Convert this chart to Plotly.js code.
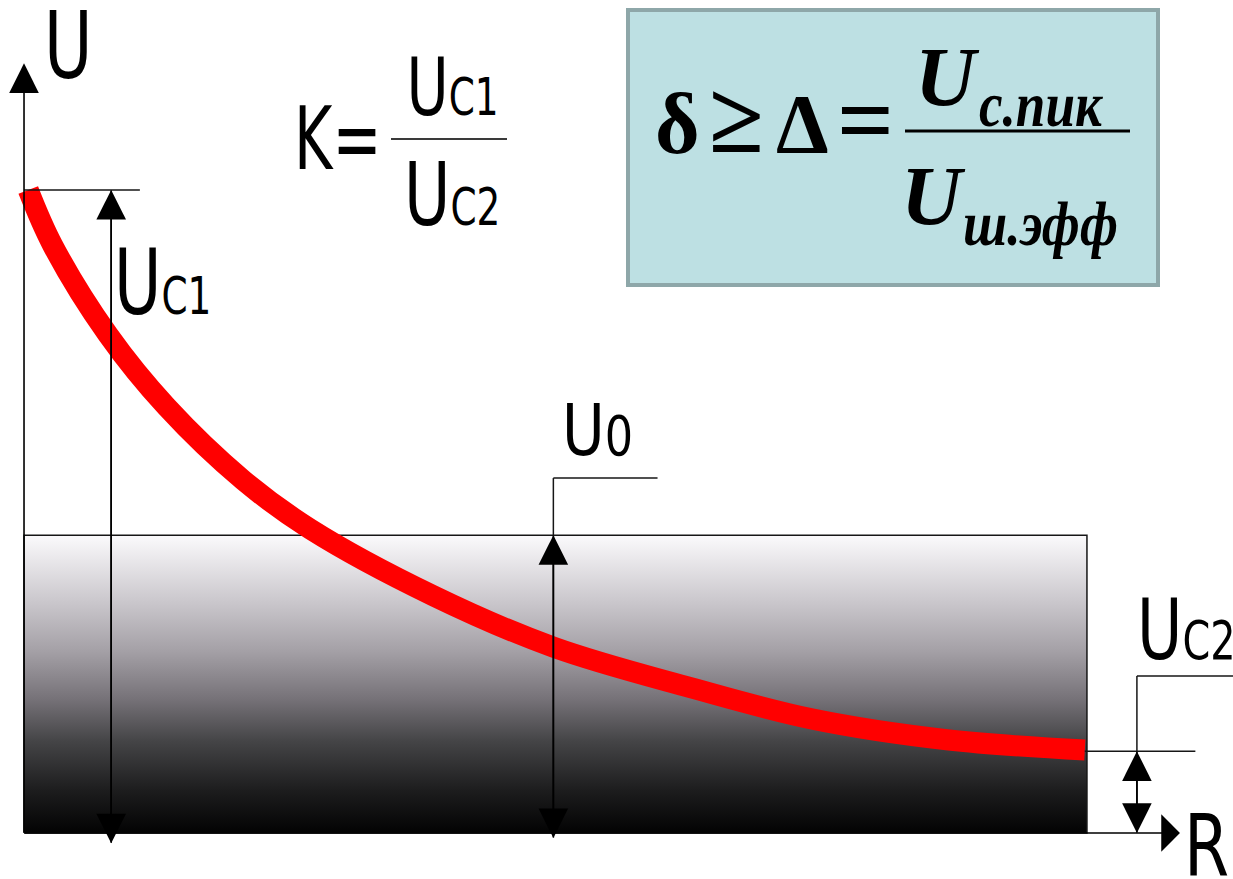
<!DOCTYPE html>
<html>
<head>
<meta charset="utf-8">
<script src="https://cdn.plot.ly/plotly-3.0.1.min.js"></script>
<style>
  html, body { margin: 0; padding: 0; background: #ffffff; }
  #chart { width: 1233px; height: 879px; }
</style>
</head>
<body>
<div id="chart"></div>
<script>
// Signal level U falling off with distance R, against the noise band U0.
const R_VALUES = [0.04, 0.27, 0.79, 1.34, 2.06, 2.69, 3.85, 4.98, 6.27, 7.42, 8.68, 9.98];
const U_VALUES = [10.0, 9.14, 7.75, 6.63, 5.49, 4.73, 3.69, 2.89, 2.26, 1.77, 1.45, 1.29];

// Named levels of the diagram
const U_C1 = 10.0;   // signal at the near end
const U_0 = 4.63;    // noise level
const U_C2 = 1.27;   // signal at the far end
const R_MAX = 10.0;  // end of the noise band

// Labels
const AXIS_U = 'U';
const AXIS_R = 'R';
const LABEL_C1 = 'C1';
const LABEL_C2 = 'C2';
const LABEL_0 = '0';
const K_TEXT = 'K=';
const FORMULA_LEFT = ['δ', '≥', 'Δ', '='];
const FORMULA_NUM_SUB = 'с.пик';
const FORMULA_DEN_SUB = 'ш.эфф';

// Figure geometry
const W = 1233, H = 879;
const X_RANGE = [-0.226, 11.374];
const Y_RANGE = [-0.716, 12.955];
const px = x => x / W;
const py = y => 1 - y / H;

const SANS = '"Liberation Sans Narrow", "Arial Narrow", "DejaVu Sans Condensed", "Liberation Sans", sans-serif';
const SERIF = '"Liberation Serif", "Times New Roman", serif';
const INK = '#161616';

const traces = [
  {
    // noise band, white at the noise level fading to black at zero
    x: [0, R_MAX, R_MAX, 0, 0],
    y: [0, 0, U_0, U_0, 0],
    mode: 'lines',
    fill: 'toself',
    fillgradient: {
      type: 'vertical',
      start: 0,
      stop: U_0,
      colorscale: [
        [0, '#030303'], [0.14, '#1c1c1d'], [0.31, '#454547'], [0.45, '#767278'],
        [0.61, '#a4a0a6'], [0.78, '#cbc8cd'], [1, '#fbfafc']
      ]
    },
    line: { color: INK, width: 1.5 },
    hoverinfo: 'skip'
  },
  {
    // signal curve
    x: R_VALUES,
    y: U_VALUES,
    mode: 'lines',
    line: { color: '#ff0000', width: 21, shape: 'spline', smoothing: 1 },
    hoverinfo: 'skip'
  }
];

// Guide lines in data coordinates
const R_ARROW_C1 = 0.82, R_ARROW_0 = 4.98, R_ARROW_C2 = 10.47;
const guide = (x0, y0, x1, y1) => ({
  type: 'line', xref: 'x', yref: 'y', x0, y0, x1, y1,
  line: { color: INK, width: 1.5 }, layer: 'above'
});
const shapes = [
  guide(0, U_C1, 1.09, U_C1),
  guide(R_ARROW_0, U_0, R_ARROW_0, 5.52),
  guide(R_ARROW_0, 5.52, 5.96, 5.52),
  guide(9.98, U_C2, 11.02, U_C2),
  guide(R_ARROW_C2, U_C2, R_ARROW_C2, 2.44),
  guide(R_ARROW_C2, 2.44, X_RANGE[1], 2.44),
  // K fraction bar
  { type: 'line', xref: 'paper', yref: 'paper', x0: px(391), x1: px(507), y0: py(139), y1: py(139),
    line: { color: '#3a3a3a', width: 2 } },
  // formula panel
  { type: 'rect', xref: 'paper', yref: 'paper', x0: px(628), x1: px(1158), y0: py(285), y1: py(10),
    fillcolor: '#bde0e3', line: { color: '#8ea7a9', width: 4 }, layer: 'below' },
  { type: 'line', xref: 'paper', yref: 'paper', x0: px(905), x1: px(1130), y0: py(131), y1: py(131),
    line: { color: '#000000', width: 3 } }
];

// Arrows: each double arrow is two overlapping single arrows
const arrow = (x, y, ax, ay, head, size) => ({
  x, y, ax, ay, xref: 'x', yref: 'y', axref: 'x', ayref: 'y',
  text: '', showarrow: true, arrowhead: head, arrowsize: size, arrowwidth: 1.6,
  arrowcolor: '#000000', font: { size: 1 }, borderpad: 0, standoff: 0
});
const annotations = [
  arrow(0, 11.97, 0, 0, 2, 3.7),
  arrow(10.875, 0, 0, 0, 1, 3.9),
  arrow(R_ARROW_C1, U_C1, R_ARROW_C1, -0.16, 2, 3.7),
  arrow(R_ARROW_C1, -0.16, R_ARROW_C1, U_C1, 2, 3.7),
  arrow(R_ARROW_0, U_0, R_ARROW_0, -0.08, 2, 3.7),
  arrow(R_ARROW_0, -0.08, R_ARROW_0, U_0, 2, 3.7),
  arrow(R_ARROW_C2, U_C2, R_ARROW_C2, 0, 2, 3.7),
  arrow(R_ARROW_C2, 0, R_ARROW_C2, U_C2, 2, 3.7)
];

// Text labels; `stretch` keeps a horizontal squeeze for each label
const stretch = [];
const label = (text, x, y, size, opts) => {
  const o = opts || {};
  stretch[annotations.length] = o.sx ? { sx: o.sx, anchor: o.xanchor || 'left' } : null;
  annotations.push({
    text, x: px(x), y: py(y), xref: 'paper', yref: 'paper',
    xanchor: o.xanchor || 'left', yanchor: 'middle', showarrow: false,
    font: { family: o.family || SANS, size, color: '#000000' }
  });
};
const sub = (t, s) => `<span style="font-size:${s}px">${t}</span>`;

label(AXIS_U, 42, 46, 92, { sx: 0.8 });
label('U' + sub(LABEL_C1, 52), 112, 282, 90, { sx: 0.8 });
label(K_TEXT, 292, 138, 88, { sx: 0.74 });
label('U' + sub(LABEL_C1, 52), 452, 88, 80, { xanchor: 'center', sx: 0.8 });
label('U' + sub(LABEL_C2, 52), 452, 195, 88, { xanchor: 'center', sx: 0.8 });
label('U' + sub(LABEL_0, 55), 560, 430, 72, { sx: 0.9 });
label('U' + sub(LABEL_C2, 54), 1135, 630, 84, { sx: 0.82 });
label(AXIS_R, 1182, 845, 86, { sx: 0.84 });

// formula: δ ≥ Δ = U_с.пик / U_ш.эфф
const leftX = [677, 736, 802, 865];
const leftY = [124, 119, 125, 120];
const leftSize = [86, 100, 84, 100];
FORMULA_LEFT.forEach((s, i) => {
  label('<b>' + s + '</b>', leftX[i], leftY[i], leftSize[i], { family: SERIF, xanchor: 'center' });
});
label('<b><i>U</i></b>', 913, 77, 84, { family: SERIF });
label('<b><i>' + FORMULA_NUM_SUB + '</i></b>', 977, 104, 64, { family: SERIF, sx: 0.83 });
label('<b><i>U</i></b>', 899, 197, 84, { family: SERIF });
label('<b><i>' + FORMULA_DEN_SUB + '</i></b>', 961, 224, 64, { family: SERIF, sx: 0.83 });

const layout = {
  width: W, height: H,
  margin: { l: 0, r: 0, t: 0, b: 0, pad: 0 },
  paper_bgcolor: '#ffffff', plot_bgcolor: '#ffffff',
  showlegend: false,
  xaxis: { range: X_RANGE, visible: false, fixedrange: true },
  yaxis: { range: Y_RANGE, visible: false, fixedrange: true },
  shapes, annotations
};

Plotly.newPlot('chart', traces, layout, { staticPlot: true, displayModeBar: false }).then(gd => {
  // squeeze the condensed lettering horizontally about its anchor
  gd.querySelectorAll('.annotation').forEach(g => {
    const s = stretch[+g.getAttribute('data-index')];
    if (!s) return;
    const t = g.querySelector('text.annotation-text');
    if (!t) return;
    const b = t.getBBox();
    const ox = s.anchor === 'center' ? b.x + b.width / 2 : b.x;
    t.setAttribute('transform', `translate(${ox},0) scale(${s.sx},1) translate(${-ox},0)`);
  });
});
</script>
</body>
</html>
